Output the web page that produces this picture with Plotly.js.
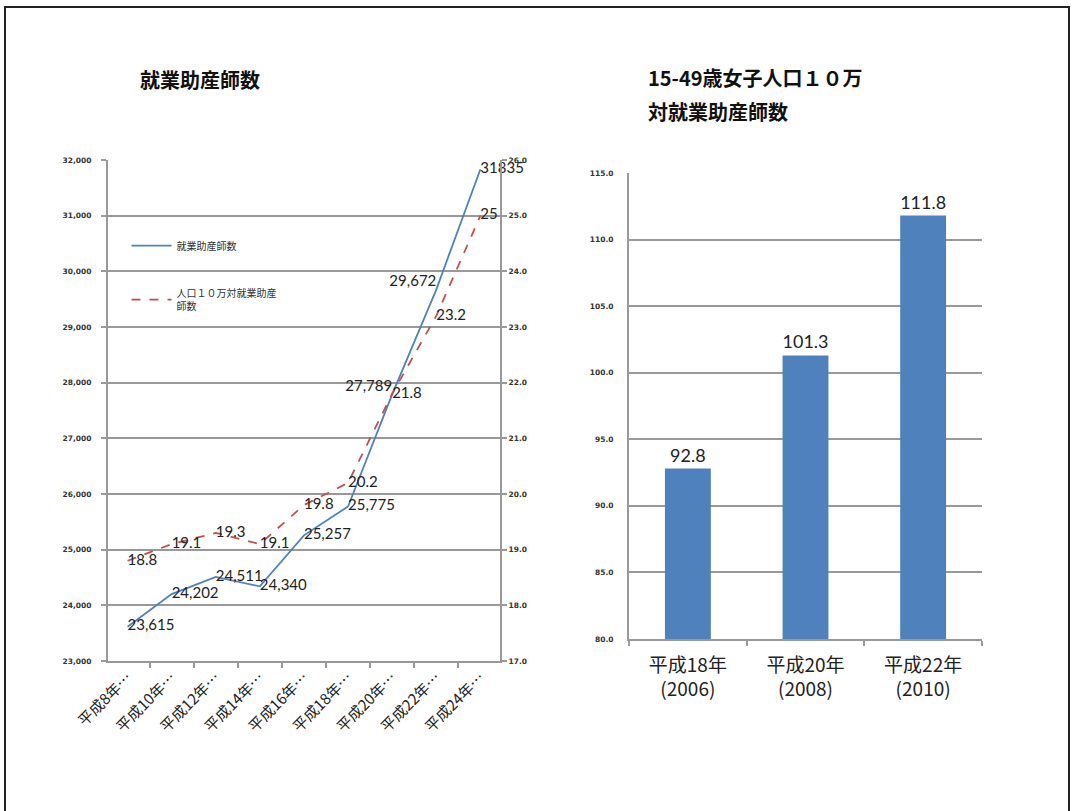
<!DOCTYPE html>
<html>
<head>
<meta charset="utf-8">
<script src="https://cdn.plot.ly/plotly-3.0.1.min.js"></script>
<style>
html,body{margin:0;padding:0;background:#fff;}
#chart{width:1072px;height:811px;}
#frame{position:absolute;left:4px;top:6px;width:1062px;height:820px;border:2px solid #222;border-bottom:none;pointer-events:none;}
</style>
</head>
<body>
<div id="chart"></div>
<div id="frame"></div>
<script>
// Left chart data
const years = ["平成8年…","平成10年…","平成12年…","平成14年…","平成16年…","平成18年…","平成20年…","平成22年…","平成24年…"];
const midwives = [23615, 24202, 24511, 24340, 25257, 25775, 27789, 29672, 31835];
const midwifeLabels = ["23,615","24,202","24,511","24,340","25,257","25,775","27,789","29,672","31835"];
const perPop = [18.8, 19.1, 19.3, 19.1, 19.8, 20.2, 21.8, 23.2, 25.0];
const perPopLabels = ["18.8","19.1","19.3","19.1","19.8","20.2","21.8","23.2","25"];
const seriesNames = ["就業助産師数", "人口１０万対就業助産<br>師数"];

// Right chart data
const barCats = ["平成18年<br>(2006)", "平成20年<br>(2008)", "平成22年<br>(2010)"];
const barVals = [92.8, 101.3, 111.8];

const labelFont = {family: "Lato, 'Open Sans', sans-serif", size: 15, color: "#222"};
const tickFontSmall = {family: "'DejaVu Sans', sans-serif", size: 7.5, color: "#333", weight: 700};
const gridC = "#999999";

const traces = [
  {
    type: "scatter", mode: "lines+text",
    x: years, y: midwives, text: midwifeLabels,
    textposition: ["middle right","middle right","middle right","middle right","middle right","middle right","top left","top left","middle right"],
    textfont: labelFont,
    line: {color: "#4F81BD", width: 1.8},
    name: seriesNames[0], legendgroup: "a",
    xaxis: "x", yaxis: "y", cliponaxis: false
  },
  {
    type: "scatter", mode: "lines+text",
    x: years, y: perPop, text: perPopLabels,
    textposition: "middle right",
    textfont: labelFont,
    line: {color: "#C0504D", width: 1.8, dash: "dash"},
    name: seriesNames[1], legendgroup: "b",
    xaxis: "x", yaxis: "y2", cliponaxis: false
  },
  {
    type: "bar",
    x: barCats, y: barVals,
    text: barVals.map(v => v.toFixed(1)),
    textposition: "outside",
    textfont: {family: "Lato, 'Open Sans', sans-serif", size: 18, color: "#222"},
    marker: {color: "#4F81BD"},
    showlegend: false,
    xaxis: "x2", yaxis: "y3", cliponaxis: false
  }
];

const titleFont = {family: "'Noto Sans CJK JP', sans-serif", size: 20, color: "#111", weight: 700};

const layout = {
  width: 1072, height: 811,
  margin: {l: 0, r: 0, t: 0, b: 0},
  paper_bgcolor: "#fff", plot_bgcolor: "rgba(0,0,0,0)",
  showlegend: true,
  legend: {
    x: 0.118, y: 0.715, xanchor: "left", yanchor: "top",
    bgcolor: "rgba(0,0,0,0)",
    font: {family: "'Noto Sans CJK JP', sans-serif", size: 10, color: "#333"},
    tracegroupgap: 30, itemwidth: 40
  },
  xaxis: {
    domain: [0.1007, 0.4664], type: "category",
    showline: true, linecolor: gridC, linewidth: 2,
    ticks: "outside", tickson: "boundaries", ticklen: 5, tickcolor: gridC, tickwidth: 2,
    tickangle: -45,
    tickfont: {family: "'Noto Sans CJK JP', sans-serif", size: 15, color: "#222"},
    showgrid: false, anchor: "y", fixedrange: true
  },
  yaxis: {
    domain: [0.185, 0.8027], range: [23000, 32000], dtick: 1000, tickformat: ",d",
    showline: true, linecolor: gridC, linewidth: 2,
    ticks: "outside", ticklen: 5, tickcolor: gridC, tickwidth: 2,
    showgrid: true, gridcolor: gridC, gridwidth: 2,
    zeroline: false, tickfont: tickFontSmall, anchor: "x", ticklabelstandoff: 8
  },
  yaxis2: {
    overlaying: "y", side: "right", anchor: "x",
    range: [17, 26], dtick: 1, tickformat: ".1f",
    showline: true, linecolor: gridC, linewidth: 2,
    ticks: "outside", ticklen: 5, tickcolor: gridC, tickwidth: 2,
    showgrid: false, zeroline: false, tickfont: tickFontSmall
  },
  xaxis2: {
    domain: [0.5868, 0.916], type: "category", anchor: "y3",
    showline: true, linecolor: gridC, linewidth: 2,
    ticks: "outside", tickson: "boundaries", ticklen: 5, tickcolor: gridC, tickwidth: 2,
    tickfont: {family: "'Noto Sans CJK JP', Lato, sans-serif", size: 19, color: "#222"},
    ticklabelstandoff: 8,
    showgrid: false
  },
  yaxis3: {
    domain: [0.2121, 0.7867], anchor: "x2",
    range: [80, 115], dtick: 5, tickformat: ".1f",
    showline: true, linecolor: gridC, linewidth: 2,
    ticks: "", showgrid: true, gridcolor: gridC, gridwidth: 2,
    zeroline: false, tickfont: tickFontSmall, ticklabelstandoff: 12
  },
  bargap: 0.61,
  annotations: [
    {xref: "paper", yref: "paper", x: 138/1072, y: (811-80)/811, xanchor: "left", yanchor: "middle",
     text: "就業助産師数", showarrow: false, font: titleFont},
    {xref: "paper", yref: "paper", x: 646/1072, y: (811-78)/811, xanchor: "left", yanchor: "middle",
     text: "15-49歳女子人口１０万", showarrow: false, font: titleFont},
    {xref: "paper", yref: "paper", x: 646/1072, y: (811-111)/811, xanchor: "left", yanchor: "middle",
     text: "対就業助産師数", showarrow: false, font: titleFont}
  ]
};

Plotly.newPlot("chart", traces, layout, {displayModeBar: false, staticPlot: true});
</script>
</body>
</html>
